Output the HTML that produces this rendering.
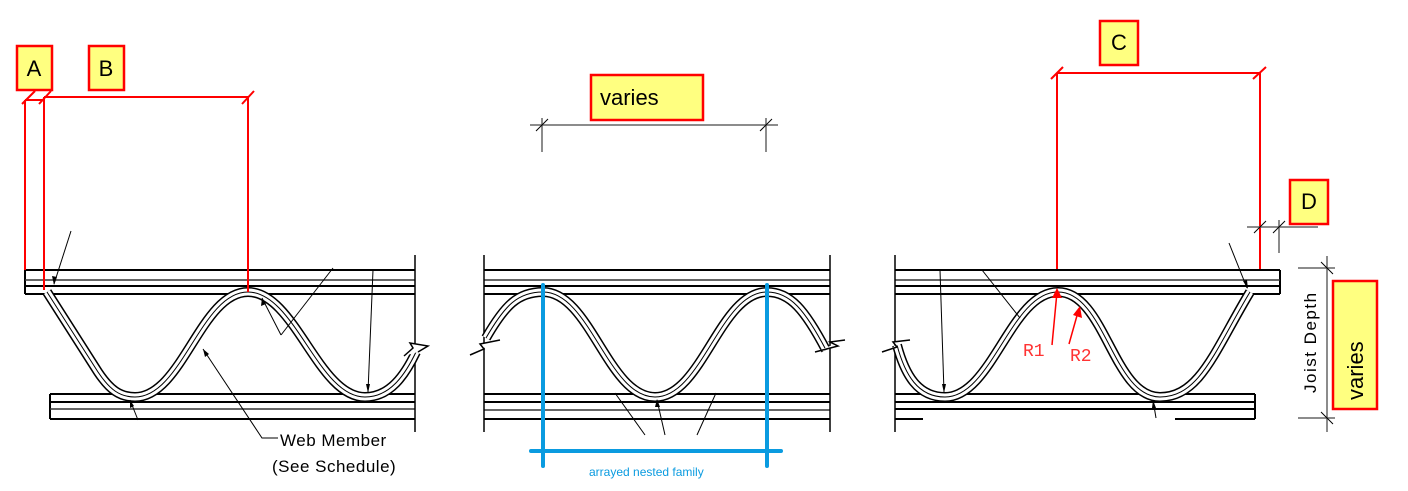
<!DOCTYPE html>
<html><head><meta charset="utf-8"><style>
html,body{margin:0;padding:0;background:#fff;}
svg{display:block;}
text{font-family:"Liberation Sans",sans-serif;}
text.mono{font-family:"Liberation Mono",monospace;}
</style></head><body>
<svg width="1408" height="491" viewBox="0 0 1408 491" xmlns="http://www.w3.org/2000/svg">
<!-- chords -->
<g stroke="#000" fill="none">
 <g stroke-width="2"><line x1="25" y1="270" x2="415" y2="270"/><line x1="25" y1="286" x2="415" y2="286"/><line x1="25" y1="294" x2="415" y2="294"/><line x1="25" y1="270" x2="25" y2="294"/></g>
 <line x1="25" y1="280" x2="415" y2="280" stroke-width="1.5" stroke="#333"/>
 <g stroke-width="2"><line x1="50" y1="394" x2="415" y2="394"/><line x1="50" y1="402" x2="415" y2="402"/><line x1="50" y1="419" x2="415" y2="419"/><line x1="50" y1="394" x2="50" y2="419"/></g>
 <line x1="50" y1="409" x2="415" y2="409" stroke-width="1.5" stroke="#333"/>
 <line x1="415" y1="255" x2="415" y2="432" stroke-width="1.5"/>
 <g stroke-width="2"><line x1="484" y1="270" x2="830" y2="270"/><line x1="484" y1="286" x2="830" y2="286"/><line x1="484" y1="294" x2="830" y2="294"/>
 <line x1="484" y1="394" x2="830" y2="394"/><line x1="484" y1="402" x2="830" y2="402"/><line x1="484" y1="419" x2="830" y2="419"/></g>
 <line x1="484" y1="280" x2="830" y2="280" stroke-width="1.5" stroke="#333"/>
 <line x1="484" y1="410" x2="830" y2="410" stroke-width="1.5" stroke="#333"/>
 <line x1="484" y1="255" x2="484" y2="432" stroke-width="1.5"/>
 <line x1="830" y1="255" x2="830" y2="432" stroke-width="1.5"/>
 <g stroke-width="2"><line x1="895" y1="270" x2="1280" y2="270"/><line x1="895" y1="286" x2="1280" y2="286"/><line x1="895" y1="294" x2="1280" y2="294"/><line x1="1280" y1="270" x2="1280" y2="294"/>
 <line x1="895" y1="394" x2="1255" y2="394"/><line x1="895" y1="402" x2="1255" y2="402"/><line x1="895" y1="409" x2="1255" y2="409"/><line x1="1255" y1="394" x2="1255" y2="419"/>
 <line x1="895" y1="419" x2="923" y2="419"/><line x1="1175" y1="419" x2="1255" y2="419"/></g>
 <line x1="895" y1="280" x2="1280" y2="280" stroke-width="1.5" stroke="#333"/>
 <line x1="895" y1="255" x2="895" y2="432" stroke-width="1.5"/>
</g>
<!-- webs -->
<g fill="none">
 <path id="w1" d="M47,292 L98,372 C110,390 120,397 135,397 C182,397 201,292 248,292 C295,292 318,397 365,397 C390,397 405,375 416,352"/>
 <path id="w2" d="M486,338 C505,305 518,292 543,292 C590,292 608,397 655,397 C702,397 720,292 767,292 C790,292 805,310 826,350"/>
 <path id="w3" d="M897,345 C905,375 918,397 945,397 C992,397 1011,292 1058,292 C1105,292 1113,397 1160,397 C1200,397 1215,350 1250,292"/>
</g>
<g fill="none">
 <use href="#w1" stroke="#000" stroke-width="10"/><use href="#w1" stroke="#fff" stroke-width="7"/><use href="#w1" stroke="#000" stroke-width="1"/>
 <use href="#w2" stroke="#000" stroke-width="10"/><use href="#w2" stroke="#fff" stroke-width="7"/><use href="#w2" stroke="#000" stroke-width="1"/>
 <use href="#w3" stroke="#000" stroke-width="10"/><use href="#w3" stroke="#fff" stroke-width="7"/><use href="#w3" stroke="#000" stroke-width="1"/>
</g>
<!-- breaks -->
<g fill="#fff" stroke="#000" stroke-width="1.5">
 <polyline points="404,356 413,348 410,343 428,346 418,352"/>
 <polyline points="470,355 484,349 480,344 500,340"/>
 <polyline points="815,352 838,346 830,342 845,340"/>
 <polyline points="882,352 897,347 893,342 910,340"/>
</g>
<!-- leaders -->
<g stroke="#000" stroke-width="1" fill="none">
 <line x1="71" y1="231" x2="54" y2="284"/>
 <line x1="333" y1="268" x2="281" y2="335"/><polyline points="281,335 262,298"/>
 <line x1="373" y1="270" x2="368" y2="392"/>
 <line x1="138" y1="420" x2="130" y2="400"/>
 <polyline points="203,349 262,438 278,438"/>
 <line x1="615" y1="393" x2="645" y2="435"/><line x1="665" y1="435" x2="657" y2="400"/><line x1="697" y1="435" x2="716" y2="393"/>
 <line x1="940" y1="270" x2="944" y2="392"/>
 <line x1="982" y1="270" x2="1020" y2="318"/>
 <line x1="1229" y1="243" x2="1247" y2="288"/>
 <line x1="1156" y1="418" x2="1153" y2="400"/>
</g>
<g fill="#000">
 <polygon points="54,285 52,276 57,277"/>
 <polygon points="262,298 261,306 266,304"/>
 <polygon points="368,393 366,384 370,384"/>
 <polygon points="130,400 130,408 134,406"/>
 <polygon points="203,349 205,357 209,354"/>
 <polygon points="657,399 655,407 660,407"/>
 <polygon points="944,393 942,384 946,384"/>
 <polygon points="1248,289 1243,281 1247,280"/>
 <polygon points="1153,400 1152,408 1156,408"/>
</g>
<!-- red dims -->
<g stroke="#f00" stroke-width="2" fill="none">
 <line x1="25" y1="100" x2="25" y2="270"/><line x1="44" y1="97" x2="44" y2="290"/><line x1="248" y1="97" x2="248" y2="292"/>
 <line x1="25" y1="100" x2="44" y2="100"/><line x1="44" y1="97" x2="248" y2="97"/>
 <line x1="22" y1="104" x2="35" y2="91"/><line x1="39" y1="104" x2="51" y2="91"/><line x1="242" y1="104" x2="254" y2="91"/>
 <line x1="1057" y1="73" x2="1057" y2="269"/><line x1="1260" y1="73" x2="1260" y2="269"/><line x1="1057" y1="73" x2="1260" y2="73"/>
 <line x1="1051" y1="79" x2="1063" y2="67"/><line x1="1253" y1="79" x2="1266" y2="67"/>
</g>
<g stroke="#f00" stroke-width="1.5">
 <line x1="1052" y1="345" x2="1057" y2="292"/><line x1="1069" y1="344" x2="1078" y2="312"/>
</g>
<polygon points="1057,288 1052,298 1062,298" fill="#f00"/>
<polygon points="1080,306 1073,315 1082,318" fill="#f00"/>
<text class="mono" x="1023" y="356" font-size="18" fill="#f33">R1</text>
<text class="mono" x="1070" y="361" font-size="18" fill="#f33">R2</text>
<!-- gray dims -->
<g stroke="#666" stroke-width="1.5">
 <line x1="530" y1="125" x2="778" y2="125"/><line x1="542" y1="118" x2="542" y2="152"/><line x1="766" y1="118" x2="766" y2="152"/>
 <line x1="1247" y1="227" x2="1318" y2="227"/><line x1="1279" y1="220" x2="1279" y2="253"/>
 <line x1="1327" y1="256" x2="1327" y2="432"/><line x1="1298" y1="268" x2="1335" y2="268"/><line x1="1298" y1="418" x2="1335" y2="418"/>
</g>
<g stroke="#000" stroke-width="1">
 <line x1="536" y1="131" x2="548" y2="119"/><line x1="760" y1="131" x2="772" y2="119"/>
 <line x1="1254" y1="233" x2="1266" y2="221"/><line x1="1273" y1="233" x2="1285" y2="221"/>
 <line x1="1321" y1="262" x2="1333" y2="274"/><line x1="1321" y1="412" x2="1333" y2="424"/>
</g>
<text transform="translate(1316,393) rotate(-90)" font-size="17" fill="#000" letter-spacing="1.5">Joist  Depth</text>
<!-- blue -->
<g stroke="#0a9be0" stroke-width="4" stroke-linecap="round">
 <line x1="543" y1="285" x2="543" y2="466"/><line x1="767" y1="285" x2="767" y2="466"/><line x1="531" y1="451" x2="781" y2="451"/>
</g>
<text x="589" y="476" font-size="12" fill="#0a9be0">arrayed nested family</text>
<!-- labels -->
<g stroke="#f00" stroke-width="2.5" fill="#ffff80">
 <rect x="17" y="46" width="35" height="44"/><rect x="89" y="46" width="35" height="44"/>
 <rect x="1100" y="21" width="38" height="44"/><rect x="1290" y="180" width="38" height="44"/>
 <rect x="591" y="75" width="112" height="45"/><rect x="1333" y="281" width="44" height="128"/>
</g>
<g font-size="22" fill="#000">
 <text x="34" y="76" text-anchor="middle">A</text><text x="106" y="76" text-anchor="middle">B</text>
 <text x="1119" y="50" text-anchor="middle">C</text><text x="1309" y="209" text-anchor="middle">D</text>
 <text x="600" y="105">varies</text>
 <text transform="translate(1363,400) rotate(-90)">varies</text>
</g>
<text x="280" y="446" font-size="17" fill="#000" letter-spacing="0.5">Web  Member</text>
<text x="272" y="472" font-size="17" fill="#000" letter-spacing="0.5">(See  Schedule)</text>
</svg>
</body></html>
